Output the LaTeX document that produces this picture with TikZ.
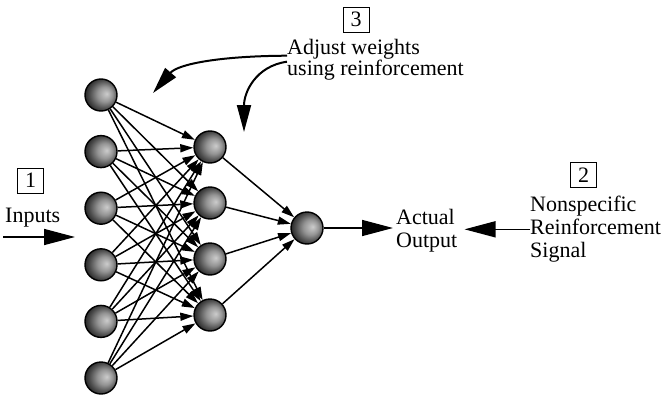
\documentclass[tikz,border=0pt]{standalone}
\usepackage{fontspec}
\setmainfont{Liberation Serif}
\usetikzlibrary{positioning}
\usetikzlibrary{arrows.meta}

\pgfdeclareradialshading{neuronshade}{\pgfpoint{9bp}{2bp}}{color(0bp)=(black!20); color(12bp)=(black!42); color(22bp)=(black!70); color(30bp)=(black!90); color(40bp)=(black)}

\tikzset{
  neuron/.style={circle, draw, line width=1.4pt, minimum size=32pt, inner sep=0pt, shading=neuronshade},
  numbox/.style={draw, line width=0.9pt, minimum width=26pt, minimum height=25pt, inner sep=0pt, font=\fontsize{22}{23}\selectfont},
  txt/.style={inner sep=0pt, align=left, font=\fontsize{22}{23}\selectfont},
  link/.style={line width=1.5pt, -{Triangle[length=13pt,width=8pt]}},
  bigarrow/.style={line width=1.6pt, -{Triangle[length=31pt,width=16pt]}},
  curvearrow/.style={line width=2pt, -{Triangle[length=27pt,width=14pt]}}
}

\begin{document}
\begin{tikzpicture}[x=1pt, y=-1pt]
\useasboundingbox (0,0) rectangle (666,396);

% Input layer
\foreach \i in {1,...,6}
  \node[neuron] (in\i) at (101, {95+56.6*(\i-1)}) {};

% Hidden layer
\foreach \j in {1,...,4}
  \node[neuron] (hid\j) at (210, {147+56*(\j-1)}) {};

% Output neuron
\node[neuron] (out) at (307,228) {};

% Weights
\foreach \i in {1,...,6}
  \foreach \j in {1,...,4}
    \draw[link] (in\i) -- (hid\j);
\foreach \j in {1,...,4}
  \draw[link] (hid\j) -- (out);

% Step 1: inputs
\node[numbox] (box1) at (30.5,180.5) {1};
\node[txt, anchor=base west] (inputs) at (5,222) {Inputs};
\coordinate (inStart) at (3,237);
\coordinate (inEnd) at (75,237);
\draw[bigarrow] (inStart) -- (inEnd);

% Output
\node[txt, anchor=north west] (actual) at (396,209) {Actual\\Output};
\draw[bigarrow, shorten >=3pt] (out) -- (out -| actual.west);

% Step 2: reinforcement signal
\node[numbox] (box2) at (583.5,175) {2};
\node[txt, anchor=north west] (signal) at (530,196) {Nonspecific\\Reinforcement\\Signal};
\draw[bigarrow, shorten >=7pt] (signal.west) -- (signal.west -| actual.east);

% Step 3: adjust weights
\node[numbox] (box3) at (356,19.5) {3};
\node[txt, anchor=north west, font=\fontsize{22}{21}\selectfont] (adjust) at (287,39) {Adjust weights\\using reinforcement};
\coordinate (tipA) at (153,93);
\coordinate (tipB) at (244,132);
\draw[curvearrow] ([yshift=4pt]adjust.west) .. controls (220,56) and (178,64) .. (tipA);
\draw[curvearrow] ([yshift=-2pt]adjust.west) .. controls (256,66) and (244,92) .. (tipB);

\end{tikzpicture}
\end{document}
